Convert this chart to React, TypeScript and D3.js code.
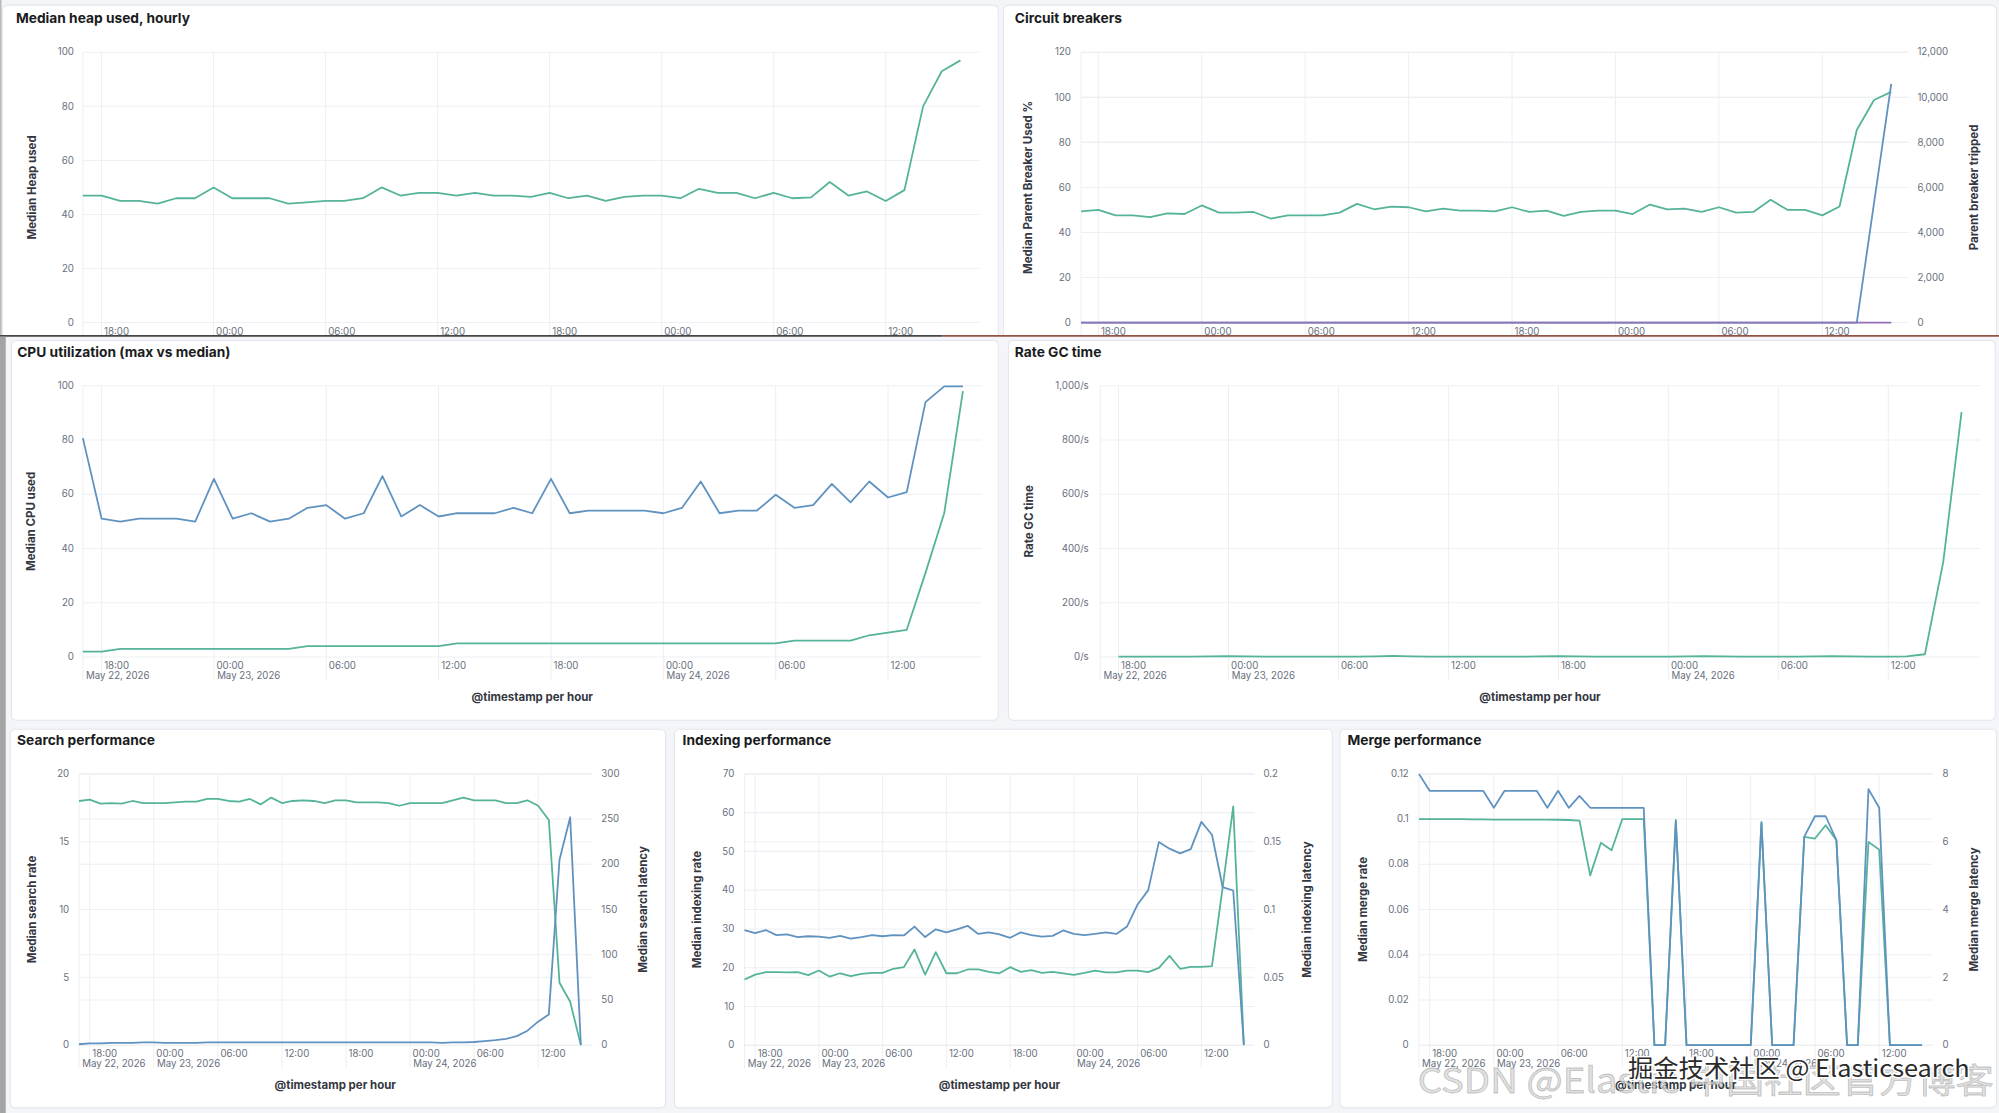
import * as d3 from 'd3';

// hourly buckets, 17:00 May 22 -> 16:00 May 24
const START = new Date(2026, 4, 22, 17);
const END = d3.timeHour.offset(START, 48);
const HOURS = d3.timeHours(START, END);

const heapUsed = [47, 47, 45, 45, 44, 46, 46, 50, 46, 46, 46, 44, 44.5, 45, 45, 46, 50, 47, 48, 48, 47, 48, 47, 47, 46.5, 48, 46, 47, 45, 46.5, 47, 47, 46, 49.5, 48, 48, 46, 48, 46, 46.3, 52, 47, 48.5, 45, 49, 80, 93, 97];

const breakerUsed = [49.4, 50, 47.6, 47.6, 46.8, 48.5, 48.2, 52, 48.8, 48.8, 49.1, 46.2, 47.6, 47.6, 47.6, 48.8, 52.7, 50.3, 51.5, 51.2, 49.4, 50.6, 49.7, 49.7, 49.4, 51.2, 49.1, 49.7, 47.4, 49.1, 49.7, 49.7, 48.2, 52.4, 50.3, 50.6, 49.1, 51.2, 48.8, 49.1, 54.5, 50, 50, 47.6, 51.5, 85.5, 98.8, 102.4];
const breakerTripped = [0, 0, 0, 0, 0, 0, 0, 0, 0, 0, 0, 0, 0, 0, 0, 0, 0, 0, 0, 0, 0, 0, 0, 0, 0, 0, 0, 0, 0, 0, 0, 0, 0, 0, 0, 0, 0, 0, 0, 0, 0, 0, 0, 0, 0, 0, 5300, 10600];
const breakerOther = [0, 0, 0, 0, 0, 0, 0, 0, 0, 0, 0, 0, 0, 0, 0, 0, 0, 0, 0, 0, 0, 0, 0, 0, 0, 0, 0, 0, 0, 0, 0, 0, 0, 0, 0, 0, 0, 0, 0, 0, 0, 0, 0, 0, 0, 0, 0, 0];

const cpuMax = [80.7, 51, 49.9, 51, 51, 51, 49.9, 65.7, 51, 53, 49.9, 51, 55, 56, 51, 53, 66.7, 51.8, 56, 51.8, 53, 53, 53, 55, 53, 65.7, 53, 54, 54, 54, 54, 53, 55, 64.7, 53, 54, 54, 59.8, 55, 56, 63.8, 57, 64.7, 58.8, 60.8, 94, 99.8, 99.8];
const cpuMedian = [2, 2, 3, 3, 3, 3, 3, 3, 3, 3, 3, 3, 4, 4, 4, 4, 4, 4, 4, 4, 5, 5, 5, 5, 5, 5, 5, 5, 5, 5, 5, 5, 5, 5, 5, 5, 5, 5, 6, 6, 6, 6, 8, 9, 10, 31, 53, 98];

const gcRate = [null, 1, 1, 1, 1, 1, 2, 3, 2, 1, 1, 1, 1, 1, 1, 2, 4, 2, 1, 1, 1, 1, 1, 1, 2, 3, 2, 1, 1, 1, 1, 1, 2, 3, 2, 1, 1, 1, 1, 2, 3, 2, 1, 1, 2, 10, 350, 903];

const searchRate = [18.0, 18.1, 17.8, 17.85, 17.8, 18.0, 17.85, 17.85, 17.85, 17.9, 17.95, 17.95, 18.15, 18.15, 18.0, 17.95, 18.15, 17.75, 18.25, 17.85, 18.0, 18.05, 18.0, 17.85, 18.05, 18.05, 17.9, 17.9, 17.9, 17.85, 17.65, 17.85, 17.85, 17.85, 17.85, 18.05, 18.25, 18.05, 18.05, 18.05, 17.85, 17.85, 18.05, 17.65, 16.6, 4.6, 3.2, 0];
const searchLatency = [1, 2, 2, 2.5, 2.5, 2.5, 3, 3, 2.5, 2.5, 2.5, 2.5, 3, 3, 3, 3, 3, 3, 3, 3, 3, 3, 3, 3, 3, 3, 3, 3, 3, 3, 3, 3, 3, 3, 2.5, 3, 3, 3.5, 4.5, 5.5, 7, 10, 16, 26, 34, 205, 252, 0];

const indexingRate = [29.7, 28.9, 29.7, 28.4, 28.6, 27.9, 28.1, 28, 27.7, 28.2, 27.5, 27.9, 28.4, 28.1, 28.4, 28.3, 30.6, 27.9, 29.9, 29.1, 29.9, 30.8, 28.7, 29.1, 28.6, 27.7, 29.1, 28.4, 28, 28.2, 29.6, 28.7, 28.4, 28.7, 29.1, 28.7, 30.6, 36.3, 40, 52.4, 50.7, 49.5, 50.6, 57.6, 54.3, 40.8, 39.9, 0];
const indexingLatency = [0.0484, 0.052, 0.0538, 0.0538, 0.0536, 0.0538, 0.0516, 0.055, 0.0506, 0.053, 0.0509, 0.0526, 0.0533, 0.0533, 0.0563, 0.0575, 0.0705, 0.052, 0.0686, 0.053, 0.053, 0.0558, 0.0558, 0.054, 0.053, 0.0575, 0.054, 0.0553, 0.0533, 0.054, 0.053, 0.0518, 0.0533, 0.055, 0.0536, 0.0536, 0.055, 0.055, 0.0538, 0.057, 0.0658, 0.0563, 0.0577, 0.0577, 0.0582, 0.116, 0.176, 0];

const mergeRate = [0.1, 0.1, 0.1, 0.1, 0.1, 0.0999, 0.0999, 0.0998, 0.0998, 0.0998, 0.0998, 0.0998, 0.0998, 0.0997, 0.0996, 0.0993, 0.0751, 0.0895, 0.0862, 0.1, 0.1, 0.1, 0, 0, 0.0996, 0, 0, 0, 0, 0, 0, 0, 0.0988, 0, 0, 0, 0.0921, 0.0914, 0.0973, 0.0907, 0, 0, 0.0899, 0.0865, 0, 0, 0, 0];
const mergeLatency = [8, 7.5, 7.5, 7.5, 7.5, 7.5, 7.5, 7, 7.5, 7.5, 7.5, 7.5, 7, 7.5, 7, 7.35, 7, 7, 7, 7, 7, 7, 0, 0, 6.6, 0, 0, 0, 0, 0, 0, 0, 6.55, 0, 0, 0, 6.15, 6.75, 6.75, 6.05, 0, 0, 7.55, 7, 0, 0, 0, 0];

const GREEN = '#54B399';
const BLUE = '#6092C0';
const PURPLE = '#9170B8';
const FONT = "Inter, 'Noto Sans', sans-serif";
const GRID = '#eceff3';

type Axis = {
  domain: [number, number];
  count: number;
  format: (v: number) => string;
  title: string;
  labelX: number;
  titleX: number;
};
type Series = { values: (number | null)[]; color: string; side: 'left' | 'right' };
type Spec = {
  title: string;
  titleX: number;
  titleY: number;
  frame: [number, number, number, number];
  plot: [number, number, number, number]; // left, right, top, bottom
  left: Axis;
  right?: Axis;
  series: Series[];
  xTitle: boolean;
};

const num = d3.format(',');
const perSec = (v: number) => num(v) + '/s';

const PANELS: Spec[] = [
  {
    title: 'Median heap used, hourly', titleX: 12.5, titleY: 18,
    frame: [2, 4, 781, 280], plot: [65, 768, 41, 253],
    left: { domain: [0, 100], count: 5, format: num, title: 'Median Heap used', labelX: 58, titleX: 25 },
    series: [{ values: heapUsed, color: GREEN, side: 'left' }],
    xTitle: false,
  },
  {
    title: 'Circuit breakers', titleX: 796, titleY: 18,
    frame: [787, 4, 779, 280], plot: [848, 1497, 41, 253],
    left: { domain: [0, 120], count: 6, format: num, title: 'Median Parent Breaker Used %', labelX: 840, titleX: 806 },
    right: { domain: [0, 12000], count: 6, format: num, title: 'Parent breaker tripped', labelX: 1504, titleX: 1548 },
    series: [
      { values: breakerUsed, color: GREEN, side: 'left' },
      { values: breakerTripped, color: BLUE, side: 'right' },
      { values: breakerOther, color: PURPLE, side: 'right' },
    ],
    xTitle: false,
  },
  {
    title: 'CPU utilization (max vs median)', titleX: 13.5, titleY: 280,
    frame: [9, 267, 774, 298], plot: [65, 770, 302.6, 515.3],
    left: { domain: [0, 100], count: 5, format: num, title: 'Median CPU used', labelX: 58, titleX: 24 },
    series: [
      { values: cpuMedian, color: GREEN, side: 'left' },
      { values: cpuMax, color: BLUE, side: 'left' },
    ],
    xTitle: true,
  },
  {
    title: 'Rate GC time', titleX: 796, titleY: 280,
    frame: [791, 267, 774, 298], plot: [863, 1553, 302.6, 515.3],
    left: { domain: [0, 1000], count: 5, format: perSec, title: 'Rate GC time', labelX: 854, titleX: 807.5 },
    series: [{ values: gcRate, color: GREEN, side: 'left' }],
    xTitle: true,
  },
  {
    title: 'Search performance', titleX: 13.4, titleY: 584,
    frame: [8, 572, 514, 297], plot: [62, 464, 607, 819.8],
    left: { domain: [0, 20], count: 4, format: num, title: 'Median search rate', labelX: 54.3, titleX: 25 },
    right: { domain: [0, 300], count: 6, format: num, title: 'Median search latency', labelX: 471.7, titleX: 504 },
    series: [
      { values: searchRate, color: GREEN, side: 'left' },
      { values: searchLatency, color: BLUE, side: 'right' },
    ],
    xTitle: true,
  },
  {
    title: 'Indexing performance', titleX: 535.4, titleY: 584,
    frame: [529, 572, 516, 297], plot: [584, 984, 607, 819.8],
    left: { domain: [0, 70], count: 7, format: num, title: 'Median indexing rate', labelX: 576, titleX: 547 },
    right: { domain: [0, 0.2], count: 4, format: num, title: 'Median indexing latency', labelX: 991, titleX: 1025.5 },
    series: [
      { values: indexingLatency, color: GREEN, side: 'right' },
      { values: indexingRate, color: BLUE, side: 'left' },
    ],
    xTitle: true,
  },
  {
    title: 'Merge performance', titleX: 1057, titleY: 584,
    frame: [1051, 572, 515, 297], plot: [1113, 1516, 607, 819.8],
    left: { domain: [0, 0.12], count: 6, format: num, title: 'Median merge rate', labelX: 1105, titleX: 1069 },
    right: { domain: [0, 8], count: 4, format: num, title: 'Median merge latency', labelX: 1523.7, titleX: 1548 },
    series: [
      { values: mergeRate, color: GREEN, side: 'left' },
      { values: mergeLatency, color: BLUE, side: 'right' },
    ],
    xTitle: true,
  },
];

const hourFmt = d3.timeFormat('%H:%M');
const dayFmt = d3.timeFormat('%b %d, %Y');

function Panel({ spec }: { spec: Spec }) {
  const [l, r, t, b] = spec.plot;
  const [fx, fy, fw, fh] = spec.frame;
  const x = d3.scaleTime().domain([START, END]).range([l, r]);
  const yL = d3.scaleLinear().domain(spec.left.domain).range([b, t]);
  const yR = spec.right ? d3.scaleLinear().domain(spec.right.domain).range([b, t]) : null;
  const hourTicks = x.ticks(d3.timeHour.every(6)!);
  const dayTicks = [START, ...hourTicks.filter(d => d.getHours() === 0)];
  const leftTicks = yL.ticks(spec.left.count);
  const rightTicks = yR && spec.right ? yR.ticks(spec.right.count) : [];
  const midY = (t + b) / 2;

  const pathFor = (s: Series) => {
    const y = s.side === 'left' ? yL : yR!;
    return d3.line<number | null>()
      .defined(v => v != null)
      .x((_, i) => x(HOURS[i]))
      .y(v => y(v as number))(s.values) || '';
  };

  return (
    <g>
      <rect x={fx} y={fy} width={fw} height={fh} rx={4} fill="#fff" stroke="#e2e6ec" strokeWidth={0.8} />
      <text x={spec.titleX} y={spec.titleY} fontSize={10.8} fontWeight={700} fill="#1a1c21">{spec.title}</text>

      {/* grid */}
      {[x(START), ...hourTicks.map(d => x(d))].map((px, i) => (
        <line key={'v' + i} x1={px} x2={px} y1={t} y2={b + 18} stroke={GRID} strokeWidth={0.8} />
      ))}
      {leftTicks.map(v => (
        <line key={'hl' + v} x1={l} x2={r} y1={yL(v)} y2={yL(v)} stroke={GRID} strokeWidth={0.8} />
      ))}
      {yR && rightTicks.map(v => (
        <line key={'hr' + v} x1={l} x2={r} y1={yR(v)} y2={yR(v)} stroke={GRID} strokeWidth={0.8} />
      ))}

      {/* y labels */}
      {leftTicks.map(v => (
        <text key={'ll' + v} x={spec.left.labelX} y={yL(v)} dy="0.33em" textAnchor="end" fontSize={7.6} fill="#69707d">
          {spec.left.format(v)}
        </text>
      ))}
      {yR && spec.right && rightTicks.map(v => (
        <text key={'rl' + v} x={spec.right!.labelX} y={yR(v)} dy="0.33em" textAnchor="start" fontSize={7.6} fill="#69707d">
          {spec.right!.format(v)}
        </text>
      ))}
      <text transform={`translate(${spec.left.titleX},${midY}) rotate(-90)`} textAnchor="middle" dy="0.35em"
        fontSize={9} fontWeight={700} fill="#343741">{spec.left.title}</text>
      {spec.right && (
        <text transform={`translate(${spec.right.titleX},${midY}) rotate(-90)`} textAnchor="middle" dy="0.35em"
          fontSize={9} fontWeight={700} fill="#343741">{spec.right.title}</text>
      )}

      {/* x labels */}
      {hourTicks.map((d, i) => (
        <text key={'xh' + i} x={x(d) + 2} y={b + 9.6} fontSize={7.6} fill="#69707d">{hourFmt(d)}</text>
      ))}
      {dayTicks.map((d, i) => (
        <text key={'xd' + i} x={Math.max(x(d), l) + 2.5} y={b + 17.5} fontSize={7.6} fill="#69707d">{dayFmt(d)}</text>
      ))}
      {spec.xTitle && (
        <text x={(l + r) / 2} y={b + 34.2} textAnchor="middle" fontSize={9} fontWeight={700} fill="#343741">
          @timestamp per hour
        </text>
      )}

      {/* series */}
      {spec.series.map((s, i) => (
        <path key={'s' + i} d={pathFor(s)} fill="none" stroke={s.color} strokeWidth={1.4} strokeLinejoin="round" />
      ))}
    </g>
  );
}

export default function App() {
  return (
    <svg width={1999} height={1113} viewBox="0 0 1568 873"
      style={{ position: 'absolute', left: 0, top: 0, fontFamily: FONT }}>
      <defs>
        <clipPath id="row1"><rect x={0} y={0} width={1568} height={263} /></clipPath>
      </defs>
      <rect x={0} y={0} width={1568} height={873} fill="#f4f5f8" />
      <g clipPath="url(#row1)">
        <Panel spec={PANELS[0]} />
        <Panel spec={PANELS[1]} />
        <rect x={0} y={0} width={1.2} height={263} fill="#b9b9b9" />
      </g>
      {/* screenshot seam between the top row and the rest */}
      <rect x={0} y={262.8} width={739} height={1.3} fill="#3d3d3d" />
      <rect x={739} y={262.8} width={829} height={1.3} fill="#8c4c3e" />
      <rect x={0} y={264.1} width={4.5} height={609} fill="#a3a3a3" />
      {PANELS.slice(2).map((p, i) => <Panel key={i} spec={p} />)}

      {/* watermarks */}
      <text x={1112} y={857} fontSize={27} textLength={452} lengthAdjust="spacingAndGlyphs"
        fontFamily="'Noto Sans CJK SC', 'Noto Sans', sans-serif"
        fill="rgba(215,215,215,0.75)" stroke="rgba(150,150,150,0.55)" strokeWidth={0.6}>
        CSDN @Elastic 中国社区官方博客
      </text>
      <text x={1277} y={845} fontSize={18.5} textLength={268} lengthAdjust="spacingAndGlyphs"
        fontFamily="'Noto Sans CJK SC', 'Noto Sans', sans-serif"
        fill="#2b2b2b" stroke="#ffffff" strokeWidth={2.4} paintOrder="stroke">
        掘金技术社区 @ Elasticsearch
      </text>
    </svg>
  );
}
